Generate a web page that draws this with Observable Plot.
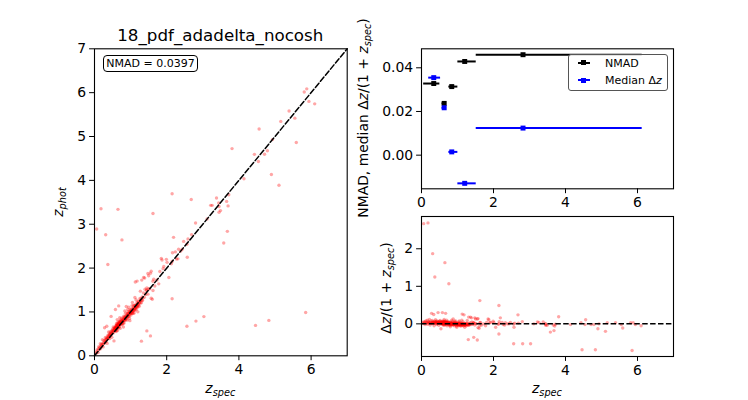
<!DOCTYPE html>
<html><head><meta charset="utf-8">
<script src="https://cdn.jsdelivr.net/npm/d3@7"></script>
<script src="https://cdn.jsdelivr.net/npm/@observablehq/plot@0.6"></script>
<style>
body{margin:0;background:#fff;}
#fig{position:relative;width:748px;height:400px;overflow:hidden;font-family:"DejaVu Sans";color:#000;background:#fff;}
#fig svg{position:absolute;left:0;top:0;}
.lbl{position:absolute;white-space:nowrap;font-size:13.9px;line-height:1;transform:translate(-50%,-50%);}
.rot{transform:translate(-50%,-50%) rotate(-90deg);}
.lbl sub{font-size:70%;vertical-align:-0.3em;line-height:0;}
.title{font-size:16.7px;}
.box{position:absolute;box-sizing:border-box;background:#fff;font-size:11px;line-height:1;}
</style></head><body><div id="fig"></div>
<script>
// ---- scatter data: [z_spec, Δz/(1+z_spec)] ----
const binLow = [[0.03,0.04],[0.05,0.01],[0.07,0.06],[0.08,0.03],[0.10,-0.02],[0.11,0.05],[0.12,0.08],[0.13,0.02],[0.15,0.04],[0.16,0.10],
[0.17,-0.01],[0.18,0.03],[0.19,0.06],[0.20,0.02],[0.21,0.05],[0.22,0.12],[0.23,0.03],[0.24,-0.03],[0.25,0.04],[0.26,0.07],
[0.27,0.01],[0.28,0.28],[0.29,0.04],[0.30,0.02],[0.30,0.09],[0.31,0.05],[0.32,0.00],[0.33,0.03],[0.33,0.06],[0.34,0.25],
[0.35,0.04],[0.35,-0.05],[0.36,0.02],[0.37,0.07],[0.37,0.03],[0.38,0.05],[0.39,0.01],[0.39,0.11],[0.40,0.04],[0.41,0.02],
[0.41,0.06],[0.42,-0.02],[0.43,0.03],[0.43,0.08],[0.44,0.05],[0.45,0.01],[0.45,0.04],[0.46,0.30],[0.47,0.02],[0.47,0.06],
[0.48,0.03],[0.48,-0.04],[0.49,0.05],[0.50,0.02],[0.50,0.07],[0.51,0.04],[0.52,0.00],[0.52,0.09],[0.53,0.03],[0.54,0.05],
[0.54,-0.13],[0.55,0.02],[0.55,0.06],[0.56,0.04],[0.56,0.01]];
const binMid = [[0.57,0.02],[0.57,0.05],[0.58,-0.01],[0.58,0.03],[0.58,0.30],[0.59,0.02],[0.59,0.06],[0.59,0.00],[0.60,0.03],[0.60,0.01],
[0.60,0.05],[0.60,-0.03],[0.61,0.02],[0.61,0.04],[0.61,0.08],[0.61,0.01],[0.62,0.03],[0.62,-0.02],[0.62,0.02],[0.62,0.06],
[0.63,0.02],[0.63,0.04],[0.63,0.00],[0.63,0.03],[0.63,0.12],[0.64,0.01],[0.64,0.02],[0.64,0.05],[0.64,-0.04],[0.65,0.03],
[0.65,0.02],[0.65,0.07],[0.65,0.01],[0.66,0.02],[0.66,0.04],[0.66,-0.01],[0.66,0.03],[0.67,0.02],[0.67,0.05],[0.67,0.00],
[0.67,0.28],[0.68,0.03],[0.68,0.01],[0.68,0.04],[0.69,0.02],[0.69,-0.02],[0.69,0.06],[0.70,0.03],[0.70,0.01],[0.70,0.10],
[0.71,0.02],[0.71,0.04],[0.71,-0.05],[0.72,0.03],[0.72,0.01],[0.72,0.05],[0.73,0.02],[0.73,0.00],[0.74,0.04],[0.74,-0.01],
[0.75,0.02],[0.75,0.06],[0.76,0.01],[0.76,-0.03]];
const binHigh = [[0.77,0.00],[0.77,0.03],[0.78,-0.02],[0.78,0.01],[0.79,0.04],[0.79,-0.03],[0.80,0.00],[0.80,0.02],[0.81,-0.01],[0.81,0.05],
[0.82,0.00],[0.82,-0.04],[0.83,0.02],[0.83,0.00],[0.84,-0.02],[0.84,0.03],[0.85,0.01],[0.85,-0.01],[0.86,0.06],[0.86,0.00],
[0.87,-0.03],[0.87,0.02],[0.88,0.00],[0.88,0.13],[0.89,-0.02],[0.89,0.01],[0.90,0.03],[0.90,-0.01],[0.91,0.00],[0.91,-0.05],
[0.92,0.02],[0.92,0.00],[0.93,-0.02],[0.93,0.04],[0.94,0.01],[0.94,-0.01],[0.95,0.00],[0.95,0.08],[0.96,-0.03],[0.96,0.02],
[0.97,0.00],[0.97,-0.06],[0.98,0.01],[0.98,-0.01],[0.99,0.03],[0.99,0.00],[1.00,-0.02],[1.00,0.01],[1.01,0.00],[1.01,-0.04],
[0.84,0.10],[0.80,-0.08],[0.92,0.07],[0.98,-0.09]];
const binOne = [[1.02,-0.01],[1.02,0.02],[1.03,-0.03],[1.03,0.00],[1.04,-0.02],[1.04,0.05],[1.05,-0.04],[1.05,-0.01],[1.06,0.01],[1.06,-0.02],
[1.07,-0.05],[1.07,0.00],[1.08,-0.02],[1.08,0.03],[1.09,-0.01],[1.09,-0.03],[1.10,0.00],[1.10,-0.06],[1.11,-0.02],[1.11,0.02],
[1.12,-0.01],[1.12,-0.04],[1.13,0.01],[1.13,-0.02],[1.14,-0.03],[1.14,0.00],[1.15,-0.02],[1.15,0.06],[1.16,-0.01],[1.16,-0.05],
[1.17,0.00],[1.17,-0.02],[1.18,-0.03],[1.18,0.02],[1.19,-0.01],[1.20,-0.04],[1.20,0.00],[1.21,-0.02],[1.22,0.01],[1.22,-0.03],
[1.23,-0.01],[1.24,-0.05],[1.24,0.00],[1.25,-0.02],[1.26,0.02],[1.27,-0.03],[1.28,-0.01],[1.29,0.00],[1.30,-0.04],[1.31,-0.02],
[1.32,0.01],[1.33,-0.03],[1.34,-0.01],[1.36,0.03],[1.38,-0.02],[1.40,0.05],[1.42,-0.01],[1.45,0.02],[1.48,-0.03],[1.50,0.01],
[1.12,0.10],[1.05,0.08],[1.20,-0.09],[1.27,0.09],[1.13,0.26],[1.18,0.24],[1.31,0.18],[1.50,0.13],
[1.30,-0.42],[1.45,-0.36],[1.55,-0.43]];
const sparse = [[1.36,0.18],[1.39,0.16],[1.44,0.02],[1.45,0.04],[1.48,0.16],[1.53,0.00],[1.55,0.13],[1.57,0.14],[1.57,-0.10],[1.60,-0.12],
[1.62,0.03],[1.62,-0.05],[1.62,0.62],[1.64,0.04],[1.67,-0.03],[1.73,0.00],[1.78,-0.05],[1.81,0.04],[1.85,0.13],[1.87,0.11],
[1.90,0.03],[1.92,0.04],[1.99,0.07],[2.01,0.04],[2.06,-0.09],[2.13,-0.01],[2.15,0.00],[2.15,0.49],[2.15,-0.27],[2.16,0.06],
[2.19,0.16],[2.24,0.04],[2.27,-0.02],[2.31,-0.03],[2.33,0.03],[2.39,0.00],[2.43,0.00],[2.47,0.04],[2.56,-0.005],[2.57,-0.09],
[2.59,0.02],[2.56,-0.53],[2.68,0.24],[2.69,0.02],[2.80,0.06],[2.81,-0.53],[3.03,-0.53],[3.12,0.00],[3.22,0.05],[3.26,0.04],
[3.38,0.05],[3.44,0.01],[3.45,-0.01],[3.45,-0.04],[3.49,-0.04],[3.58,-0.22],[3.66,-0.03],[3.68,-0.18],[3.70,-0.06],[3.72,-0.01],
[3.81,0.19],[4.14,-0.02],[4.43,0.03],[4.46,-0.69],[4.54,-0.02],[4.56,0.11],[4.71,-0.02],[4.79,-0.02],[4.83,-0.69],[4.90,-0.13],
[4.93,0.00],[5.11,-0.20],[5.16,0.03],[5.39,0.03],[5.55,-0.02],[5.59,-0.11],[5.81,0.03],[5.85,-0.71],[5.88,0.03],[5.94,-0.02],[6.10,-0.05]];
const catastrophic = [[0.06,2.67],[0.18,2.69],[0.31,1.87],[0.37,1.25],[0.65,1.63],[0.76,1.07]];

// ---- binned statistics (top-right panel) ----
const binMidZ = [0.34, 0.63, 0.84, 1.20, 2.82];
const nmadLo  = [0.06, 0.57, 0.76, 1.01, 1.52];
const nmadHi  = [0.51, 0.68, 1.01, 1.52, 6.13];
const medLo   = [0.20, 0.57, 0.76, 1.01, 1.52];
const medHi   = [0.53, 0.68, 1.01, 1.52, 6.13];
const nmadVal = [0.0328, 0.0237, 0.0314, 0.0429, 0.0460];
const medVal  = [0.0355, 0.0217, 0.0015, -0.0129, 0.0124];

// ---- axes / text ----
const zLim = [0, 7];
const zTicks = [0, 2, 4, 6];
const zphotTicks = [0, 1, 2, 3, 4, 5, 6, 7];
const statDomain = [-0.0154, 0.0487];
const statTicks = [0.00, 0.02, 0.04];
const resDomain = [-0.87, 2.86];
const resTicks = [0, 1, 2];
const titleText = "18_pdf_adadelta_nocosh";
const nmadText = "NMAD = 0.0397";

const rows = [...binLow, ...binMid, ...binHigh, ...binOne, ...sparse, ...catastrophic]
  .map(([zs, dz]) => ({zs, dz, zp: zs + dz * (1 + zs)}));
const stats = binMidZ.map((m, i) => ({m, nlo: nmadLo[i], nhi: nmadHi[i], mlo: medLo[i], mhi: medHi[i], n: nmadVal[i], md: medVal[i]}));

const fig = document.getElementById("fig");
const style = {fontFamily: "DejaVu Sans", fontSize: "13.9px", background: "transparent", color: "black", overflow: "visible"};
const tk = {tickSize: 4.9, tickPadding: 3.5, label: null};
const intFmt = d3.format("d");
const dash = "5.5,2.4";

const left = Plot.plot({
  width: 748, height: 400, marginLeft: 94, marginRight: 401.3, marginTop: 48.3, marginBottom: 44.7, style,
  x: {domain: zLim, label: null}, y: {domain: zLim, label: null},
  marks: [
    Plot.dot(rows, {x: "zs", y: "zp", r: 1.7, fill: "red", fillOpacity: 0.35, clip: true}),
    Plot.line(zLim, {x: d => d, y: d => d, stroke: "black", strokeWidth: 1.5, strokeDasharray: dash}),
    Plot.frame({stroke: "black", strokeWidth: 1.1}),
    Plot.axisX({ticks: zTicks, tickFormat: intFmt, ...tk}),
    Plot.axisY({ticks: zphotTicks, tickFormat: intFmt, ...tk})
  ]
});

const topRight = Plot.plot({
  width: 748, height: 400, marginLeft: 421, marginRight: 75, marginTop: 48.3, marginBottom: 211.7, style,
  x: {domain: zLim, label: null}, y: {domain: statDomain, label: null},
  marks: [
    Plot.ruleY(stats, {y: "n", x1: "nlo", x2: "nhi", stroke: "black", strokeWidth: 2}),
    Plot.dot(stats, {x: "m", y: "n", symbol: "square", r: 2.8, fill: "black"}),
    Plot.ruleY(stats, {y: "md", x1: "mlo", x2: "mhi", stroke: "blue", strokeWidth: 2}),
    Plot.dot(stats, {x: "m", y: "md", symbol: "square", r: 2.8, fill: "blue"}),
    Plot.frame({stroke: "black", strokeWidth: 1.1}),
    Plot.axisX({ticks: zTicks, tickFormat: intFmt, ...tk}),
    Plot.axisY({ticks: statTicks, tickFormat: d3.format(".2f"), ...tk})
  ]
});

const bottomRight = Plot.plot({
  width: 748, height: 400, marginLeft: 421, marginRight: 75, marginTop: 216, marginBottom: 44, style,
  x: {domain: zLim, label: null}, y: {domain: resDomain, label: null},
  marks: [
    Plot.dot(rows, {x: "zs", y: "dz", r: 1.7, fill: "red", fillOpacity: 0.35, clip: true}),
    Plot.ruleY([0], {stroke: "black", strokeWidth: 1.5, strokeDasharray: dash}),
    Plot.frame({stroke: "black", strokeWidth: 1.1}),
    Plot.axisX({ticks: zTicks, tickFormat: intFmt, ...tk}),
    Plot.axisY({ticks: resTicks, tickFormat: intFmt, ...tk})
  ]
});

fig.append(left, topRight, bottomRight);

function addLabel(html, x, y, cls) {
  const d = document.createElement("div");
  d.className = "lbl " + (cls || "");
  d.innerHTML = html;
  d.style.left = x + "px"; d.style.top = y + "px";
  fig.append(d);
  return d;
}
const zspec = "<i>z</i><sub><i>spec</i></sub>";
addLabel(titleText, 220.3, 35, "title");
addLabel(zspec, 220.3, 389);
addLabel(zspec, 547, 389);
addLabel("<i>z</i><sub><i>phot</i></sub>", 59, 201.8, "rot");
addLabel("NMAD, median Δ<i>z</i>/(1 + " + zspec + ")", 363.5, 118.3, "rot");
addLabel("Δ<i>z</i>/(1 + " + zspec + ")", 386.5, 288, "rot");

// NMAD box
const nb = document.createElement("div");
nb.className = "box";
Object.assign(nb.style, {left: "102.7px", top: "55px", width: "95.6px", height: "17.3px", border: "1.1px solid #000", borderRadius: "4px",
  display: "flex", alignItems: "center", justifyContent: "center"});
nb.textContent = nmadText;
fig.append(nb);

// legend
const lg = document.createElement("div");
lg.className = "box";
Object.assign(lg.style, {left: "568px", top: "54px", width: "100px", height: "37px", border: "1px solid #555", borderRadius: "3px", background: "rgba(255,255,255,0.85)"});
fig.append(lg);
[["NMAD", "black", 62.7], ["Median Δ<i>z</i>", "blue", 80.3]].forEach(([t, c, y]) => {
  const ln = document.createElement("div");
  Object.assign(ln.style, {position: "absolute", left: "577.5px", top: (y - 1) + "px", width: "12px", height: "2px", background: c});
  const sq = document.createElement("div");
  Object.assign(sq.style, {position: "absolute", left: "581px", top: (y - 2.5) + "px", width: "5px", height: "5px", background: c});
  const tx = document.createElement("div");
  Object.assign(tx.style, {position: "absolute", left: "605px", top: y + "px", transform: "translateY(-50%)", fontSize: "11px", lineHeight: "1", whiteSpace: "nowrap"});
  tx.innerHTML = t;
  fig.append(ln, sq, tx);
});
</script></body></html>
